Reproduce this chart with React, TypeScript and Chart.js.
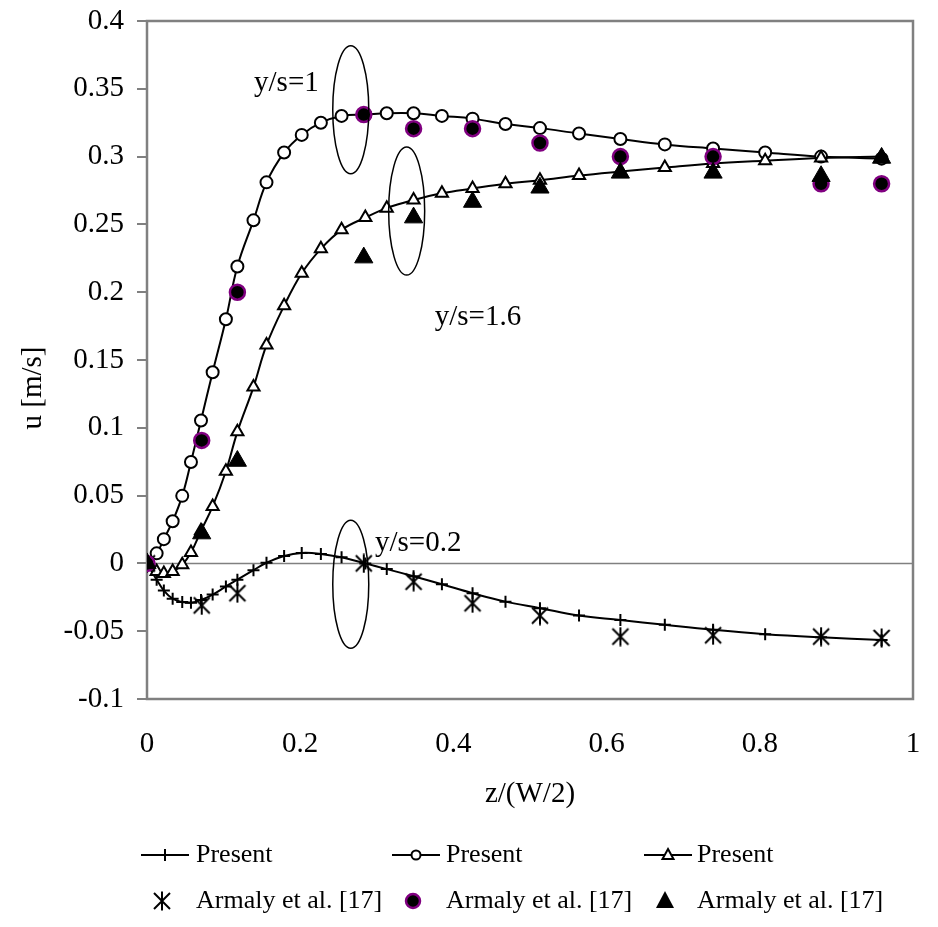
import React, { useEffect, useRef } from 'react';
import { Chart, registerables } from 'chart.js';

Chart.register(...registerables);

const FONT = "'Liberation Serif', 'Times New Roman', serif";

// "Present" simulation grid (z/(W/2))
const PRESENT_X = [0, 0.0126, 0.022, 0.0335, 0.046, 0.0574, 0.0705, 0.0857, 0.103, 0.118, 0.139, 0.156, 0.179, 0.202, 0.227, 0.254, 0.285, 0.313, 0.348, 0.385, 0.425, 0.468, 0.513, 0.564, 0.618, 0.676, 0.739, 0.807, 0.88, 0.959];
const PRESENT_Y02 = [0, -0.012, -0.02, -0.026, -0.0285, -0.029, -0.027, -0.023, -0.017, -0.012, -0.005, 0.0005, 0.0055, 0.0077, 0.007, 0.0045, 0, -0.0042, -0.0095, -0.0154, -0.022, -0.0282, -0.033, -0.0385, -0.0417, -0.0453, -0.049, -0.0522, -0.0545, -0.0564];
const PRESENT_Y1 = [0, 0.0074, 0.0179, 0.0311, 0.0498, 0.0748, 0.1054, 0.141, 0.18, 0.219, 0.253, 0.281, 0.303, 0.316, 0.325, 0.33, 0.331, 0.332, 0.332, 0.33, 0.328, 0.324, 0.321, 0.317, 0.313, 0.309, 0.306, 0.303, 0.3, 0.2985];
const PRESENT_Y16 = [0, -0.006, -0.0074, -0.006, -0.001, 0.008, 0.024, 0.042, 0.068, 0.097, 0.13, 0.161, 0.19, 0.214, 0.232, 0.246, 0.255, 0.262, 0.268, 0.273, 0.2765, 0.28, 0.2826, 0.286, 0.289, 0.292, 0.295, 0.297, 0.299, 0.3];

// Armaly et al. [17] experimental points
const ARMALY_X = [0, 0.0714, 0.118, 0.283, 0.348, 0.425, 0.513, 0.618, 0.739, 0.88, 0.959];
const ARMALY_Y02 = [0, -0.031, -0.022, 0, -0.0135, -0.0294, -0.0385, -0.054, -0.053, -0.054, -0.055];
const ARMALY_Y1 = [0, 0.0907, 0.2, 0.331, 0.3206, 0.3206, 0.31, 0.3, 0.3, 0.28, 0.28];
const ARMALY_Y16 = [0, 0.022, 0.0755, 0.2255, 0.255, 0.2665, 0.277, 0.288, 0.288, 0.2855, 0.299];

const X_TICKS = [0, 0.2, 0.4, 0.6, 0.8, 1];
const X_TICK_LABELS = ['0', '0.2', '0.4', '0.6', '0.8', '1'];
const Y_TICKS = [-0.1, -0.05, 0, 0.05, 0.1, 0.15, 0.2, 0.25, 0.3, 0.35, 0.4];
const Y_TICK_LABELS = ['-0.1', '-0.05', '0', '0.05', '0.1', '0.15', '0.2', '0.25', '0.3', '0.35', '0.4'];

const X_TITLE = 'z/(W/2)';
const Y_TITLE = 'u [m/s]';

const LEGEND_ROW1 = ['Present', 'Present', 'Present'];
const LEGEND_ROW2 = ['Armaly et al. [17]', 'Armaly et al. [17]', 'Armaly et al. [17]'];

const CURVE_LABELS = ['y/s=0.2', 'y/s=1', 'y/s=1.6'];
const CURVE_LABEL_X = [0.354, 0.182, 0.432];
const CURVE_LABEL_Y = [0.0147, 0.354, 0.1816];
const ELLIPSE_X = [0.266, 0.266, 0.339];
const ELLIPSE_Y = [-0.0154, 0.3346, 0.2598];

const pts = (xs: number[], ys: number[]) => xs.map((x, i) => ({ x, y: ys[i] }));

function makeAsterisk(size: number, lw: number): HTMLCanvasElement {
  const c = document.createElement('canvas');
  c.width = size;
  c.height = size;
  const ctx = c.getContext('2d')!;
  ctx.strokeStyle = '#000';
  ctx.lineWidth = lw;
  const m = lw;
  ctx.beginPath();
  ctx.moveTo(m, m);
  ctx.lineTo(size - m, size - m);
  ctx.moveTo(size - m, m);
  ctx.lineTo(m, size - m);
  ctx.moveTo(size / 2, 0.5);
  ctx.lineTo(size / 2, size - 0.5);
  ctx.stroke();
  return c;
}

function drawMarker(ctx: CanvasRenderingContext2D, kind: string, x: number, y: number, star: HTMLCanvasElement) {
  ctx.save();
  ctx.strokeStyle = '#000';
  ctx.fillStyle = '#000';
  ctx.lineWidth = 2;
  if (kind === 'plus') {
    ctx.beginPath();
    ctx.moveTo(x - 6, y); ctx.lineTo(x + 6, y);
    ctx.moveTo(x, y - 6); ctx.lineTo(x, y + 6);
    ctx.stroke();
  } else if (kind === 'ocircle') {
    ctx.fillStyle = '#fff';
    ctx.beginPath();
    ctx.arc(x, y, 4.5, 0, Math.PI * 2);
    ctx.fill();
    ctx.stroke();
  } else if (kind === 'otri') {
    ctx.fillStyle = '#fff';
    ctx.beginPath();
    ctx.moveTo(x, y - 6); ctx.lineTo(x + 5.5, y + 4); ctx.lineTo(x - 5.5, y + 4); ctx.closePath();
    ctx.fill();
    ctx.stroke();
  } else if (kind === 'star') {
    ctx.drawImage(star, x - star.width / 2, y - star.height / 2);
  } else if (kind === 'fcircle') {
    ctx.strokeStyle = '#800080';
    ctx.lineWidth = 2.5;
    ctx.beginPath();
    ctx.arc(x, y, 7, 0, Math.PI * 2);
    ctx.fill();
    ctx.stroke();
  } else if (kind === 'ftri') {
    ctx.beginPath();
    ctx.moveTo(x, y - 10); ctx.lineTo(x + 9, y + 7); ctx.lineTo(x - 9, y + 7); ctx.closePath();
    ctx.fill();
  }
  ctx.restore();
}

export default function App() {
  const ref = useRef<HTMLCanvasElement>(null);

  useEffect(() => {
    const canvas = ref.current;
    if (!canvas) return;
    const star = makeAsterisk(20, 2);

    const decor = {
      id: 'decor',
      beforeDatasetsDraw(chart: any) {
        const { ctx, chartArea, scales } = chart;
        const ys = scales.y;
        ctx.save();
        ctx.strokeStyle = '#808080';
        ctx.lineWidth = 1.5;
        const y0 = ys.getPixelForValue(0);
        ctx.beginPath();
        ctx.moveTo(chartArea.left, y0);
        ctx.lineTo(chartArea.right, y0);
        ctx.stroke();
        ctx.lineWidth = 2.5;
        ctx.strokeRect(chartArea.left, chartArea.top, chartArea.right - chartArea.left, chartArea.bottom - chartArea.top);
        ctx.restore();
      },
      afterDatasetsDraw(chart: any) {
        const { ctx, scales } = chart;
        const xs = scales.x;
        const ys = scales.y;
        ctx.save();
        ctx.strokeStyle = '#000';
        ctx.lineWidth = 1.5;
        for (let i = 0; i < ELLIPSE_X.length; i++) {
          const cx = xs.getPixelForValue(ELLIPSE_X[i]);
          const cy = ys.getPixelForValue(ELLIPSE_Y[i]);
          ctx.beginPath();
          ctx.ellipse(cx, cy, 18, 64, 0, 0, Math.PI * 2);
          ctx.stroke();
        }
        ctx.fillStyle = '#000';
        ctx.font = `29px ${FONT}`;
        ctx.textAlign = 'center';
        ctx.textBaseline = 'middle';
        for (let i = 0; i < CURVE_LABELS.length; i++) {
          ctx.fillText(CURVE_LABELS[i], xs.getPixelForValue(CURVE_LABEL_X[i]), ys.getPixelForValue(CURVE_LABEL_Y[i]));
        }
        ctx.restore();
      },
      afterDraw(chart: any) {
        const { ctx } = chart;
        ctx.save();
        ctx.fillStyle = '#000';
        // y-axis title
        ctx.save();
        ctx.font = `29px ${FONT}`;
        ctx.translate(33, 388);
        ctx.rotate(-Math.PI / 2);
        ctx.textAlign = 'center';
        ctx.textBaseline = 'middle';
        ctx.fillText(Y_TITLE, 0, 0);
        ctx.restore();
        // legend
        ctx.font = `26px ${FONT}`;
        ctx.textAlign = 'left';
        ctx.textBaseline = 'middle';
        const textX = [196, 446, 697];
        const markX = [165, 416, 668];
        const row1 = 855;
        const row2 = 901;
        const k1 = ['plus', 'ocircle', 'otri'];
        const k2 = ['star', 'fcircle', 'ftri'];
        for (let i = 0; i < 3; i++) {
          ctx.strokeStyle = '#000';
          ctx.lineWidth = 2;
          ctx.beginPath();
          ctx.moveTo(markX[i] - 24, row1);
          ctx.lineTo(markX[i] + 24, row1);
          ctx.stroke();
          drawMarker(ctx, k1[i], markX[i], row1, star);
          ctx.fillText(LEGEND_ROW1[i], textX[i], row1);
          drawMarker(ctx, k2[i], markX[i] - 3, row2, star);
          ctx.fillText(LEGEND_ROW2[i], textX[i], row2);
        }
        ctx.restore();
      },
    };

    const presentBase = {
      type: 'scatter',
      showLine: true,
      borderColor: '#000',
      borderWidth: 2,
      tension: 0.4,
      pointBorderColor: '#000',
      pointBorderWidth: 2,
      pointHoverRadius: 0,
    };

    const chart = new Chart(canvas, {
      type: 'scatter',
      data: {
        datasets: [
          { label: 'Armaly et al. [17]', data: pts(ARMALY_X, ARMALY_Y16), showLine: false, pointStyle: 'triangle', pointRadius: 10.5, pointBackgroundColor: '#000', pointBorderColor: '#000', pointBorderWidth: 1 },
          { label: 'Armaly et al. [17]', data: pts(ARMALY_X, ARMALY_Y1), showLine: false, pointStyle: 'circle', pointRadius: 7.5, pointBackgroundColor: '#000', pointBorderColor: '#800080', pointBorderWidth: 2.5 },
          { label: 'Armaly et al. [17]', data: pts(ARMALY_X, ARMALY_Y02), showLine: false, pointStyle: star, pointRadius: 10 },
          { ...presentBase, label: 'Present', data: pts(PRESENT_X, PRESENT_Y16), pointStyle: 'triangle', pointRadius: 7, pointBackgroundColor: '#fff' },
          { ...presentBase, label: 'Present', data: pts(PRESENT_X, PRESENT_Y1), pointStyle: 'circle', pointRadius: 6, pointBackgroundColor: '#fff' },
          { ...presentBase, label: 'Present', data: pts(PRESENT_X, PRESENT_Y02), pointStyle: 'cross', pointRadius: 6, pointBackgroundColor: '#000' },
        ] as any,
      },
      options: {
        animation: false,
        responsive: false,
        devicePixelRatio: 1,
        layout: { padding: { top: 21, right: 25, bottom: 115, left: 0 } },
        plugins: { legend: { display: false }, tooltip: { enabled: false } },
        scales: {
          x: {
            type: 'linear',
            min: 0,
            max: 1,
            afterBuildTicks: (s: any) => { s.ticks = X_TICKS.map((v) => ({ value: v })); },
            afterFit: (s: any) => { s.height = 113; s.paddingLeft = 0; s.paddingRight = 0; },
            ticks: {
              callback: (_v: any, i: number) => X_TICK_LABELS[i],
              color: '#000',
              font: { family: FONT, size: 29 },
              padding: 28,
              maxRotation: 0,
            },
            grid: { display: false, drawTicks: false },
            border: { display: false },
            title: { display: true, text: X_TITLE, color: '#000', font: { family: FONT, size: 29 }, padding: 0 },
          },
          y: {
            type: 'linear',
            min: -0.1,
            max: 0.4,
            afterBuildTicks: (s: any) => { s.ticks = Y_TICKS.map((v) => ({ value: v })); },
            afterFit: (s: any) => { s.width = 147; s.paddingTop = 0; s.paddingBottom = 0; },
            ticks: {
              callback: (_v: any, i: number) => Y_TICK_LABELS[i],
              color: '#000',
              font: { family: FONT, size: 29 },
              padding: 13,
            },
            grid: { display: true, drawOnChartArea: false, drawTicks: true, tickLength: 10, color: '#808080', lineWidth: 2 },
            border: { display: false },
            title: { display: false },
          },
        },
      } as any,
      plugins: [decor],
    });

    return () => chart.destroy();
  }, []);

  return (
    <div style={{ position: 'fixed', left: 0, top: 0, width: 938, height: 927, background: '#fff' }}>
      <canvas ref={ref} width={938} height={927} style={{ display: 'block', width: 938, height: 927 }} />
    </div>
  );
}
